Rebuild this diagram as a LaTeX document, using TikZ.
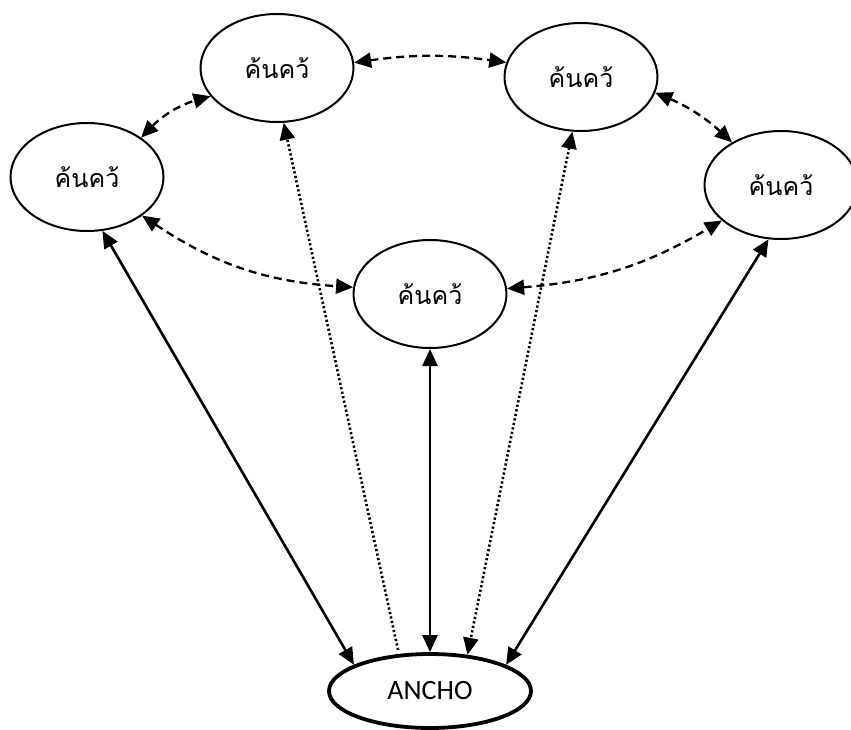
\documentclass[tikz,border=0pt]{standalone}
\usepackage{fontspec}
\setmainfont{Carlito}
\newfontfamily\thaifont[Script=Thai]{Loma}
\usetikzlibrary{shapes.geometric,arrows.meta}
\begin{document}
\begin{tikzpicture}[x=1pt,y=-1pt,
    bubble/.style={draw,ellipse,line width=2pt,minimum width=153pt,minimum height=108pt,inner sep=0pt,font=\thaifont\fontsize{25}{30}\selectfont},
    hub/.style={draw,ellipse,line width=3.8pt,minimum width=202pt,minimum height=74pt,inner sep=0pt,font=\fontsize{28}{32}\selectfont},
    tip/.style={{Triangle[length=17pt,width=15pt]}-{Triangle[length=17pt,width=15pt]}},
    link/.style={tip,line width=2.6pt},
    dashlink/.style={tip,line width=2.3pt,dash pattern=on 8pt off 5pt},
    dotlink/.style={line width=2.6pt,dash pattern=on 2.2pt off 2.4pt}]
      \useasboundingbox (0,0) rectangle (851,730);
      \draw
        (87,177) node[bubble] (left){ค้นคว้}
        (277,68) node[bubble] (topl){ค้นคว้}
        (581,77) node[bubble] (topr){ค้นคว้}
        (781,185) node[bubble] (right){ค้นคว้}
        (430,294) node[bubble] (mid){ค้นคว้}
        (430,691) node[hub] (ancho){ANCHO};
      \begin{scope}[dashlink]
        \draw (left.36) to[bend left=15] (topl.-157);
        \draw (topl.4) to[bend left=8] (topr.169);
        \draw (topr.-12) to[bend left=10] (right.139);
        \draw (left.-35) to[bend right=15] (mid.175);
        \draw (mid.4) to[bend right=13] (right.-149);
      \end{scope}
      \begin{scope}[link]
        \draw (left.-74) -- (ancho.161);
        \draw (mid.south) -- (ancho.north);
        \draw (right.-103) -- (ancho.19);
      \end{scope}
      \draw[dotlink,-{Triangle[length=17pt,width=15pt]},shorten <=4pt] (ancho.130) -- (topl.-83);
      \draw[dotlink,tip] (topr.-99) -- (ancho.44);
    \end{tikzpicture}
\end{document}
